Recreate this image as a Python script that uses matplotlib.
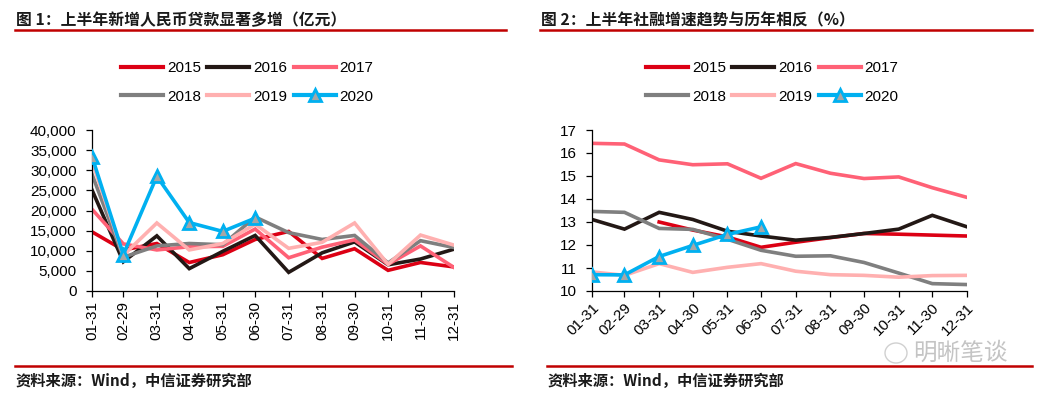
import matplotlib
matplotlib.use("Agg")
import matplotlib.pyplot as plt
import pandas as pd
from matplotlib.lines import Line2D
from matplotlib.patches import Ellipse

# ---------------- data ----------------
dates = pd.to_datetime(["2020-01-31", "2020-02-29", "2020-03-31", "2020-04-30",
                        "2020-05-31", "2020-06-30", "2020-07-31", "2020-08-31",
                        "2020-09-30", "2020-10-31", "2020-11-30", "2020-12-31"])
tick_labels = ["01-31", "02-29", "03-31", "04-30", "05-31", "06-30",
               "07-31", "08-31", "09-30", "10-31", "11-30", "12-31"]
years = ["2015", "2016", "2017", "2018", "2019", "2020"]

# Fig 1: new RMB loans (100 million yuan)
loans_2015 = [14700, 10200, 11800, 7079, 9008, 12800, 14800, 8096, 10500, 5136, 7089, 5978]
loans_2016 = [25100, 7266, 13700, 5556, 9855, 13800, 4636, 9487, 12200, 6513, 7946, 10400]
loans_2017 = [20300, 11700, 10200, 11000, 11100, 15400, 8255, 10900, 12700, 6632, 11200, 5844]
loans_2018 = [29000, 8393, 11200, 11800, 11500, 18400, 14500, 12800, 13800, 6970, 12500, 10800]
loans_2019 = [32300, 8858, 16900, 10200, 11800, 16600, 10600, 12100, 16900, 6613, 13900, 11400]
loans_2020 = [33400, 9057, 28500, 17000, 14800, 18100]

# Fig 2: social financing growth (%)
tsf_2015 = [None, None, 13.0, 12.65, 12.35, 11.9, 12.12, 12.32, 12.5, 12.47, 12.43, 12.39]
tsf_2016 = [13.11, 12.69, 13.42, 13.11, 12.6, 12.39, 12.21, 12.33, 12.5, 12.69, 13.29, 12.79]
tsf_2017 = [16.42, 16.39, 15.7, 15.49, 15.53, 14.9, 15.54, 15.12, 14.89, 14.96, 14.49, 14.07]
tsf_2018 = [13.46, 13.42, 12.72, 12.68, 12.25, 11.77, 11.51, 11.53, 11.24, 10.78, 10.32, 10.28]
tsf_2019 = [10.83, 10.68, 11.19, 10.81, 11.03, 11.19, 10.86, 10.71, 10.68, 10.6, 10.67, 10.68]
tsf_2020 = [10.71, 10.7, 11.5, 11.98, 12.46, 12.79]

title1 = "图 1：上半年新增人民币贷款显著多增（亿元）"
title2 = "图 2：上半年社融增速趋势与历年相反（%）"
source = "资料来源：Wind，中信证券研究部"
watermark = "明晰笔谈"

# ---------------- style ----------------
colors = ["#dc0014", "#231815", "#ff6176", "#7f7f7f", "#ffb0b0", "#00b0f0"]
LAT = "Liberation Sans"
CJK = ["Noto Sans CJK SC", "DejaVu Sans"]
plt.rcParams["font.family"] = [LAT, "Noto Sans CJK SC"]

W, H = 1048, 399
fig = plt.figure(figsize=(W / 100, H / 100), dpi=100)


def fx(px):
    return px / W


def fy(py):
    return 1 - py / H


def axes_box(x0, x1, y0, y1):
    return [fx(x0), fy(y1), fx(x1) - fx(x0), fy(y0) - fy(y1)]


ax1 = fig.add_axes(axes_box(92, 454, 130, 291))
ax2 = fig.add_axes(axes_box(592, 967, 130, 291))


def plot_series(ax, series):
    handles = []
    for i, (yr, vals) in enumerate(zip(years, series)):
        n = len(vals)
        x = dates[:n]
        y = [float("nan") if v is None else v for v in vals]
        if yr == "2020":
            h, = ax.plot(x, y, color=colors[i], lw=2.6, marker="^", ms=9,
                         mfc="#a6a6a6", mec=colors[i], mew=2, zorder=5, label=yr)
        else:
            h, = ax.plot(x, y, color=colors[i], lw=2.6, zorder=2 + i * 0.1,
                         label=yr, solid_joinstyle="miter")
        handles.append(h)
    return handles


h1 = plot_series(ax1, [loans_2015, loans_2016, loans_2017, loans_2018, loans_2019, loans_2020])
h2 = plot_series(ax2, [tsf_2015, tsf_2016, tsf_2017, tsf_2018, tsf_2019, tsf_2020])

for ax in (ax1, ax2):
    ax.set_xlim(dates[0], dates[-1])
    ax.set_xticks(dates)
    for s in ("top", "right"):
        ax.spines[s].set_visible(False)
    for s in ("left", "bottom"):
        ax.spines[s].set_linewidth(0.9)
        ax.spines[s].set_color("#000000")
    ax.tick_params(axis="both", direction="out", length=4, width=0.9,
                   labelsize=11, colors="#000000")
    ax.tick_params(axis="y", pad=7)
    ax.tick_params(axis="x", pad=3)

ax1.set_ylim(0, 40000)
ax1.set_yticks(range(0, 40001, 5000))
ax1.set_yticklabels([f"{v:,}" for v in range(0, 40001, 5000)], fontfamily=LAT)
ax1.set_xticklabels(tick_labels, rotation=90, fontfamily=LAT)

ax2.set_ylim(10, 17)
ax2.set_yticks(range(10, 18))
ax2.set_yticklabels([str(v) for v in range(10, 18)], fontfamily=LAT)
ax2.set_xticklabels(tick_labels, rotation=45, ha="right", rotation_mode="anchor",
                    fontfamily=LAT)

# legends (row-major order)
order = [0, 3, 1, 4, 2, 5]
for handles, x0 in ((h1, 121), (h2, 646)):
    leg = fig.legend([handles[i] for i in order], [years[i] for i in order],
                     ncol=3, loc="upper left",
                     bbox_to_anchor=(fx(x0), fy(61)), frameon=False,
                     prop={"family": LAT, "size": 11},
                     handlelength=2.75, handletextpad=0.25, columnspacing=0.42,
                     labelspacing=0.95, borderpad=0, borderaxespad=0)
    for lh in leg.legend_handles:
        lh.set_linewidth(3)

# titles and rules
red = "#c00000"
for x0, x1, t in ((15, 506, title1), (540, 1032, title2)):
    fig.text(fx(x0 + 1), fy(20), t, family=CJK, fontsize=11.4, fontweight="bold",
             color="#1a1a1a", va="center", ha="left")
    fig.add_artist(Line2D([fx(x0), fx(x1)], [fy(29.5), fy(29.5)], color=red, lw=1.8))

for x0, x1 in ((15, 512), (547, 1032)):
    fig.add_artist(Line2D([fx(x0), fx(x1)], [fy(366), fy(366)], color=red, lw=1.8))
    fig.text(fx(x0 + 1), fy(381), source, family=CJK, fontsize=11, fontweight="bold",
             color="#1a1a1a", va="center", ha="left")

# watermark
fig.text(fx(913), fy(353), watermark, family=CJK, fontsize=17, color="#c4c4c4",
         va="center", ha="left", zorder=10)
fig.add_artist(Ellipse((fx(896), fy(353)), fx(22), 20 / H, transform=fig.transFigure,
                       fill=False, ec="#d0d0d0", lw=1))

fig.savefig("out.png", dpi=100)
